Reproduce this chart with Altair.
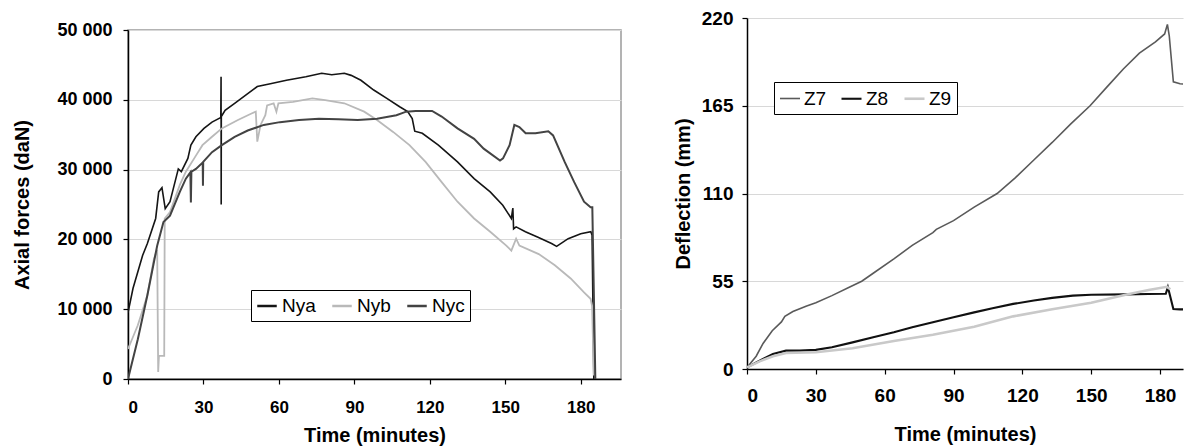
import altair as alt
import pandas as pd

# ---------------- Left chart: axial forces (daN) ----------------
left_series = ["Nya", "Nyb", "Nyc"]
left_colors = ["#151515", "#b9b9b9", "#434343"]
left_widths = [1.6, 2.0, 2.6]

nya_t = [0, 2, 5.8, 7.7, 11, 12.2, 13.5, 14.8, 16.7, 20, 21.2, 23.8, 25, 27, 30.2, 33.4,
         36.6, 36.9, 37.0, 37.05, 37.1, 38.6, 42.4, 47.6, 51.4, 56.6, 63, 70.7, 77, 81, 86,
         88.7, 92.6, 97.7, 102.9, 108, 111.2, 113, 114, 117, 123.4, 131, 137.6, 144, 149,
         152.4, 153, 153.3, 154.3, 158, 163, 168.4, 170.4, 175, 180, 184, 184.5, 185.2]
nya_v = [9500, 13000, 17700, 19400, 23000, 26800, 27400, 24400, 25400, 30100, 29700, 31600,
         33500, 34700, 35900, 36800, 37400, 37500, 43300, 25000, 37600, 38500, 39500, 40900,
         41900, 42300, 42800, 43300, 43800, 43600, 43800, 43500, 42800, 41400, 40200, 39000,
         38300, 37300, 35500, 35200, 33500, 31100, 28700, 26800, 24900, 23000, 24500, 21500,
         21800, 21100, 20300, 19400, 19000, 20100, 20800, 21100, 20600, 0]

nyb_t = [0, 3.9, 7.7, 10.3, 11.6, 12.0, 12.3, 14.4, 14.6, 16.7, 20.6, 23, 27, 29.6, 33.4,
         37.3, 43.7, 48.9, 50.8, 51.4, 52.7, 54.6, 55.3, 57.9, 59, 59.8, 65.6, 73.3, 78.4,
         86, 93.9, 99, 105.4, 111.9, 118.3, 124.7, 131, 137.6, 144, 150.4, 152.4, 154.3,
         155.6, 163.3, 169.7, 176, 181.3, 183.9, 184.5, 185.2]
nyb_v = [4300, 7700, 12000, 17200, 18500, 1000, 3300, 3300, 23000, 23900, 27800, 29700,
         32000, 33500, 34700, 35900, 37100, 38000, 38300, 34000, 36400, 37800, 39200, 39500,
         38300, 39500, 39700, 40200, 39950, 39500, 38300, 37100, 35400, 33500, 31100, 28200,
         25400, 23000, 21100, 19100, 18400, 20100, 19100, 17900, 16300, 14400, 12400, 11500,
         10500, 500]

nyc_t = [0, 3.9, 7.7, 11.6, 14.1, 16.7, 20.6, 23, 24.8, 25, 25.2, 27, 29.7, 29.8, 29.9,
         33.4, 37.3, 42.4, 47.6, 54, 60.4, 68, 75.9, 83.6, 91.3, 99, 106.7, 110.6, 114.4,
         120.9, 124.7, 131, 137.6, 141.4, 147.9, 149.1, 151.7, 153.6, 155.6, 158.1, 162,
         167.1, 169, 173.6, 177.4, 181.3, 183.9, 184.6, 185.8]
nyc_v = [0, 5700, 12000, 19100, 22500, 23400, 26800, 28700, 29600, 25300, 29700, 30100,
         31000, 27700, 31100, 32500, 33500, 34700, 35600, 36400, 36800, 37100, 37300, 37200,
         37100, 37300, 37800, 38300, 38400, 38400, 37600, 35900, 34400, 33000, 31300, 31600,
         33500, 36400, 36100, 35200, 35200, 35500, 34900, 31100, 28200, 25400, 24600, 24600, 0]

left_x_ticks = [0, 30, 60, 90, 120, 150, 180]
left_y_ticks = [0, 10000, 20000, 30000, 40000, 50000]

# ---------------- Right chart: deflection (mm) ----------------
right_series = ["Z7", "Z8", "Z9"]
right_colors = ["#5a5a5a", "#111111", "#c9c9c9"]
right_widths = [1.6, 2.6, 1.7]

z7_t = [0, 4, 7, 11, 15, 16.5, 20, 26, 30, 37, 45, 50, 55, 64, 72, 81, 82.5, 90, 99, 109,
        117, 125, 133, 141, 149.5, 157, 164, 171, 178, 182, 183.2, 184, 185.8, 188.7, 194]
z7_v = [1, 8, 16, 24, 29.5, 33, 36, 39.5, 41.5, 46, 51.5, 55, 60, 69, 77.5, 85.5, 87.5, 93,
        101.5, 110, 120, 131, 142, 153.5, 165, 177, 188, 198, 205, 210, 216, 209, 180,
        178.8, 178]

z8_t = [0, 5.5, 11.3, 17, 23, 30, 37, 46, 55, 64, 72, 81, 90, 99, 107, 116, 125, 133, 142,
        150, 165, 175, 182.5, 183.4, 184, 185.8, 188.7, 194]
z8_v = [1, 5.2, 9.4, 11.5, 11.5, 12, 13.6, 16.7, 19.9, 23, 26.1, 29.3, 32.4, 35.5, 38.1,
        40.8, 42.9, 44.6, 46, 46.5, 46.8, 47, 47.2, 51.3, 48, 37.6, 37.4, 37.4]

z9_t = [0, 5.5, 11.3, 17, 30, 46, 64, 81, 99, 116, 133, 150, 165, 175, 183, 184.5]
z9_v = [1, 4.8, 8, 10, 10.5, 13, 17.5, 21.5, 26.5, 33, 37.5, 41.5, 46.6, 49.5, 51.5, 50]

right_x_ticks = [0, 30, 60, 90, 120, 150, 180]
right_y_ticks = [0, 55, 110, 165, 220]


def frame(names, ts, vs):
    rows = []
    for name, tt, vv in zip(names, ts, vs):
        for i, (a, b) in enumerate(zip(tt, vv)):
            rows.append({"series": name, "t": a, "v": b, "i": i})
    return pd.DataFrame(rows)


df_left = frame(left_series, [nya_t, nyb_t, nyc_t], [nya_v, nyb_v, nyc_v])
df_right = frame(right_series, [z7_t, z8_t, z9_t], [z7_v, z8_v, z9_v])

FONT = "Liberation Sans"

left = alt.Chart(df_left).mark_line(clip=True).encode(
    x=alt.X("t:Q", scale=alt.Scale(domain=[0, 196], nice=False, zero=False),
            axis=alt.Axis(values=left_x_ticks, title="Time (minutes)", grid=False,
                          labelFontSize=17, titleFontSize=20, tickSize=5,
                          labelPadding=15, titlePadding=10)),
    y=alt.Y("v:Q", scale=alt.Scale(domain=[0, 50000], nice=False),
            axis=alt.Axis(values=left_y_ticks, title="Axial forces (daN)", grid=True,
                          labelExpr="replace(format(datum.value, ','), ',', ' ')",
                          labelFontSize=18, titleFontSize=20, tickSize=5,
                          labelPadding=11, titlePadding=24)),
    color=alt.Color("series:N", scale=alt.Scale(domain=left_series, range=left_colors),
                    legend=alt.Legend(orient="none", legendX=123, legendY=260,
                                      direction="horizontal", title=None,
                                      strokeColor="black", fillColor="white", padding=5,
                                      symbolType="stroke", symbolSize=380,
                                      symbolStrokeWidth=2.5, labelFontSize=19,
                                      labelOffset=4, columnPadding=11)),
    strokeWidth=alt.StrokeWidth("series:N", scale=alt.Scale(domain=left_series, range=left_widths),
                                legend=None),
    order="i:Q",
).properties(width=493, height=349)

# empty spacer above the left panel so its plot sits a little lower than the right one
spacer = alt.Chart(pd.DataFrame({"a": []})).mark_point().properties(
    width=493, height=1, view=alt.ViewBackground(stroke="transparent"))

left_col = alt.vconcat(spacer, left, spacing=0).resolve_scale(
    color="independent", x="independent", y="independent")

right = alt.Chart(df_right).mark_line(clip=True).encode(
    x=alt.X("t:Q", scale=alt.Scale(domain=[0, 190], nice=False, zero=False),
            axis=alt.Axis(values=right_x_ticks, title="Time (minutes)", grid=False,
                          labelFontSize=19, titleFontSize=20, tickSize=5,
                          labelPadding=12, titlePadding=19)),
    y=alt.Y("v:Q", scale=alt.Scale(domain=[0, 220], nice=False),
            axis=alt.Axis(values=right_y_ticks, title="Deflection (mm)", grid=True,
                          labelFontSize=19, titleFontSize=20, tickSize=5,
                          labelPadding=9, titlePadding=8)),
    color=alt.Color("series:N", scale=alt.Scale(domain=right_series, range=right_colors),
                    legend=alt.Legend(orient="none", legendX=27, legendY=64,
                                      direction="horizontal", title=None,
                                      strokeColor="black", fillColor="white", padding=5,
                                      symbolType="stroke", symbolSize=400,
                                      symbolStrokeWidth=2.5, labelFontSize=19,
                                      labelOffset=3, columnPadding=10)),
    strokeWidth=alt.StrokeWidth("series:N", scale=alt.Scale(domain=right_series, range=right_widths),
                                legend=None),
    order="i:Q",
).properties(width=436, height=351, view=alt.ViewBackground(stroke="transparent"))

chart = alt.hconcat(left_col, right, spacing=50).resolve_scale(
    color="independent", strokeWidth="independent", x="independent", y="independent"
).properties(
    padding={"left": 4, "top": 0, "right": 0, "bottom": 0}
).configure_axis(
    labelFont=FONT, titleFont=FONT, labelFontWeight="bold", titleFontWeight="bold",
    labelColor="black", titleColor="black", domainColor="black", domainWidth=1.5,
    tickColor="black", tickWidth=1.2, gridColor="#d8d8d8", gridWidth=1.2,
).configure_legend(
    labelFont=FONT, labelColor="black", labelFontWeight="normal",
).configure_view(
    stroke="#9a9a9a", strokeWidth=1.5,
).configure_title(font=FONT)

chart.save("out.html", embed_options={"renderer": "svg", "actions": False})
